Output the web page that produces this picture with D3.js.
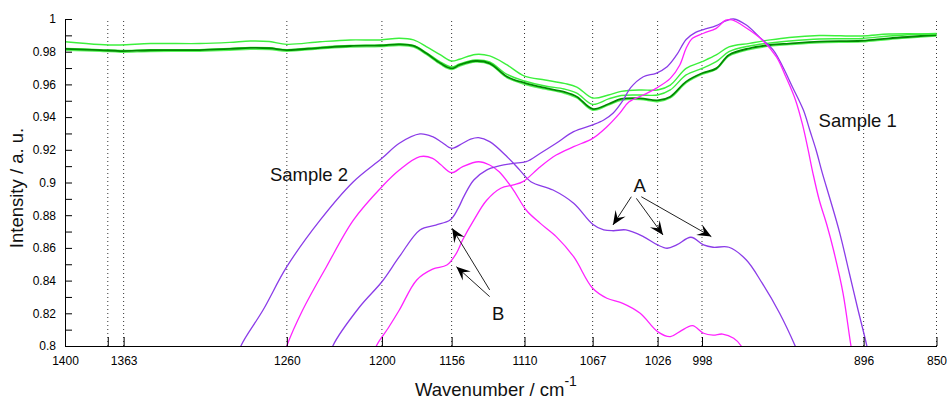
<!DOCTYPE html>
<meta charset="utf-8">
<head>
  <title>IR spectra, samples 1 and 2</title>
</head>

<style>
body { margin: 0; background: #fff; }
text {
  font-family: "Liberation Sans", Arial, Helvetica, sans-serif;
  fill: black;
}
.axis text { font-size: 12px; }
.axis path, .axis line { stroke: black; }
.guide { stroke: #333; stroke-dasharray: 1,3; }
.spec { fill: none; stroke-linejoin: round; }
.note { font-size: 18.5px; fill: #111; }
</style>

<body>
  <svg width="947" height="400">
    <g></g>
  </svg>

  <script src="https://cdnjs.cloudflare.com/ajax/libs/d3/7.8.5/d3.min.js"></script>
  <script>

// ticks
var xTicks = [1400, 1373, 1363, 1260, 1200, 1156, 1110, 1067, 1026, 998, 896, 850];
var xTickLabels = ["1400", "", "1363", "1260", "1200", "1156", "1110", "1067", "1026", "998", "896", "850"];
var yTicks = [0.8, 0.82, 0.84, 0.86, 0.88, 0.9, 0.92, 0.94, 0.96, 0.98, 1];
var yTickLabels = ["0.8", "0.82", "0.84", "0.86", "0.88", "0.9", "0.92", "0.94", "0.96", "0.98", "1"];

// green spectra share one wavenumber grid
var greenWn = [1400,1378,1365,1346,1315,1296,1283,1271,1260,1239,1220,1201,1189,1180,1172,1163,1156,1151,1141,1132,1121,1110,1097,1085,1077,1067,1057,1049,1037,1026,1018,1008,998,989,981,968,955,943,924,897,880,850];
var greenTop = [0.9861,0.9844,0.9841,0.9850,0.9850,0.9857,0.9865,0.9862,0.9845,0.9861,0.9872,0.9872,0.9882,0.9872,0.9831,0.9780,0.9743,0.9754,0.9783,0.9774,0.9719,0.9651,0.9627,0.9606,0.9584,0.9517,0.9535,0.9557,0.9566,0.9566,0.9596,0.9698,0.9739,0.9780,0.9829,0.9851,0.9872,0.9887,0.9899,0.9896,0.9908,0.9908];
var greenMid = [0.9820,0.9813,0.9807,0.9812,0.9813,0.9820,0.9826,0.9824,0.9813,0.9828,0.9838,0.9841,0.9848,0.9838,0.9795,0.9737,0.9706,0.9725,0.9749,0.9737,0.9661,0.9621,0.9590,0.9572,0.9547,0.9478,0.9511,0.9532,0.9535,0.9535,0.9566,0.9658,0.9698,0.9739,0.9800,0.9835,0.9853,0.9865,0.9878,0.9881,0.9896,0.9911];
var greenDark = [0.9817,0.9810,0.9804,0.9809,0.9810,0.9817,0.9823,0.9821,0.9810,0.9824,0.9835,0.9838,0.9845,0.9835,0.9790,0.9729,0.9698,0.9719,0.9743,0.9729,0.9647,0.9609,0.9578,0.9554,0.9525,0.9450,0.9480,0.9511,0.9515,0.9502,0.9525,0.9617,0.9668,0.9698,0.9780,0.9821,0.9841,0.9850,0.9862,0.9867,0.9882,0.9902];
var greenLow = [0.9809,0.9803,0.9797,0.9801,0.9803,0.9809,0.9815,0.9813,0.9803,0.9817,0.9828,0.9831,0.9838,0.9828,0.9783,0.9722,0.9691,0.9711,0.9736,0.9722,0.9640,0.9601,0.9571,0.9546,0.9517,0.9442,0.9473,0.9503,0.9508,0.9494,0.9517,0.9609,0.9661,0.9691,0.9772,0.9813,0.9834,0.9843,0.9855,0.9860,0.9875,0.9895];

// sample 2
var s2PurpleWn = [1292,1289,1275,1260,1239,1218,1200,1189,1176,1168,1162,1156,1149,1144,1139,1132,1121,1113,1106,1092,1079,1067,1060,1054,1046,1035,1026,1020,1014,1005,997,991,981,970,960,949,939,935];
var s2PurpleI = [0.79,0.800,0.822,0.8485,0.877,0.9005,0.9148,0.924,0.9297,0.928,0.9245,0.9209,0.924,0.9265,0.9274,0.925,0.9158,0.9076,0.9005,0.8954,0.8873,0.8745,0.871,0.8705,0.871,0.8669,0.8618,0.8598,0.8618,0.8665,0.8618,0.8604,0.8604,0.8526,0.8384,0.82,0.7996,0.79];
var s2MagentaWn = [1263,1260,1250,1235,1218,1200,1189,1176,1168,1163,1156,1149,1139,1132,1126,1117,1109,1100,1090,1079,1067,1058,1048,1037,1026,1018,1012,1004,997,991,985,978,973,970];
var s2MagentaI = [0.79,0.800,0.822,0.8485,0.877,0.8974,0.9076,0.9158,0.9148,0.911,0.906,0.9097,0.9127,0.9107,0.9066,0.8954,0.8832,0.875,0.8669,0.8546,0.8353,0.8292,0.8261,0.82,0.8088,0.8057,0.8088,0.8124,0.8078,0.8067,0.8073,0.8047,0.7996,0.79];

// sample 1
var s1PurpleWn = [1234,1231,1214,1200,1189,1176,1166,1157,1152,1148,1142,1134,1126,1117,1109,1100,1090,1079,1067,1060,1054,1048,1043,1035,1027,1020,1014,1008,1002,997,989,983,978,970,962,953,947,941,934,930,926,922,917,911,905,900,894,892];
var s1PurpleI = [0.79,0.800,0.824,0.8393,0.8546,0.871,0.874,0.877,0.884,0.892,0.9015,0.9076,0.9101,0.9117,0.9127,0.9179,0.924,0.9311,0.9352,0.9382,0.9425,0.950,0.958,0.9647,0.9668,0.9708,0.978,0.9875,0.9918,0.9935,0.996,0.9988,1.0,0.9963,0.9892,0.981,0.9708,0.9586,0.9443,0.9321,0.9199,0.9056,0.8893,0.8689,0.8445,0.824,0.8002,0.79];
var s1MagentaWn = [1206,1203.5,1196,1189,1178,1168,1159,1153,1149,1142,1134,1125,1117,1111,1100,1090,1079,1067,1058,1050,1044,1035,1027,1018,1012,1008,1004,997,989,983,979,970,960,951,945,939,934.5,931,928,924,919,915,909,904,902];
var s1MagentaI = [0.79,0.800,0.811,0.822,0.8404,0.847,0.8495,0.8567,0.865,0.877,0.889,0.8965,0.8985,0.9005,0.9097,0.9168,0.9219,0.927,0.9341,0.9423,0.9494,0.9535,0.9576,0.9637,0.9719,0.9821,0.9882,0.9913,0.9943,0.9993,0.9994,0.9945,0.9872,0.9768,0.9645,0.9505,0.9352,0.9199,0.9058,0.8893,0.8734,0.8587,0.8324,0.8002,0.79];

// text notes and arrows, in data units
var notes = [
  {text: "Sample 2", wn: 1270.7, y: 0.9009, anchor: "start"},
  {text: "Sample 1", wn: 924.4, y: 0.9341, anchor: "start"},
  {text: "A", wn: 1037.3, y: 0.8944, anchor: "middle"},
  {text: "B", wn: 1126.7, y: 0.8159, anchor: "middle"}
];
var arrows = [
  {wn0: 1042.6, y0: 0.8913, wn1: 1054.2, y1: 0.874},
  {wn0: 1039.4, y0: 0.8903, wn1: 1022.6, y1: 0.8679},
  {wn0: 1036.3, y0: 0.8913, wn1: 992.1, y1: 0.8669},
  {wn0: 1132, y0: 0.8343, wn1: 1155.7, y1: 0.872},
  {wn0: 1132, y0: 0.8302, wn1: 1153, y1: 0.8485}
];

var x = d3.scaleLinear().domain([1400, 850]).range([65, 936.5]);
var y = d3.scaleLinear().domain([0.8, 1]).range([346, 19]);

var svg = d3.select('svg g');

svg.append('clipPath').attr('id', 'plot')
  .append('rect')
  .attr('x', 65).attr('y', 16)
  .attr('width', 872).attr('height', 330);

// dotted guide lines
svg.selectAll('line.guide')
  .data(xTicks.slice(1))
  .enter()
  .append('line')
  .attr('class', 'guide')
  .attr('x1', function(d) { return x(d); })
  .attr('x2', function(d) { return x(d); })
  .attr('y1', 21)
  .attr('y2', 346);

function pairs(wn, vals) {
  return wn.map(function(w, i) { return [w, vals[i]]; });
}

var line = d3.line()
  .x(function(d) { return x(d[0]); })
  .y(function(d) { return y(d[1]); })
  .curve(d3.curveCatmullRom.alpha(0.5));

var series = [
  {data: pairs(greenWn, greenLow), color: '#5cf55c', width: 1.4},
  {data: pairs(greenWn, greenMid), color: '#3cf03c', width: 1.4},
  {data: pairs(greenWn, greenDark), color: '#008a00', width: 1.8},
  {data: pairs(greenWn, greenTop), color: '#3cf03c', width: 1.4},
  {data: pairs(s2PurpleWn, s2PurpleI), color: '#8b3ce8', width: 1.3},
  {data: pairs(s2MagentaWn, s2MagentaI), color: '#ff22ff', width: 1.3},
  {data: pairs(s1PurpleWn, s1PurpleI), color: '#8b3ce8', width: 1.3},
  {data: pairs(s1MagentaWn, s1MagentaI), color: '#ff22ff', width: 1.3}
];

svg.append('g')
  .attr('clip-path', 'url(#plot)')
  .selectAll('path')
  .data(series)
  .enter()
  .append('path')
  .attr('class', 'spec')
  .attr('stroke', function(d) { return d.color; })
  .attr('stroke-width', function(d) { return d.width; })
  .attr('d', function(d) { return line(d.data); });

// axes, ticks pointing inwards
svg.append('g')
  .attr('class', 'axis')
  .attr('transform', 'translate(0,346)')
  .call(d3.axisBottom(x)
    .tickValues(xTicks)
    .tickFormat(function(d, i) { return xTickLabels[i]; })
    .tickSizeInner(-9)
    .tickSizeOuter(0)
    .tickPadding(10));

svg.append('g')
  .attr('class', 'axis')
  .attr('transform', 'translate(65,0)')
  .call(d3.axisLeft(y)
    .tickValues(y.ticks(20))
    .tickFormat(function(d) {
      var i = yTicks.findIndex(function(t) { return Math.abs(t - d) < 1e-6; });
      return i < 0 ? '' : yTickLabels[i];
    })
    .tickSizeInner(-7)
    .tickSizeOuter(0)
    .tickPadding(9));

// axis titles
svg.append('text')
  .attr('class', 'note')
  .attr('transform', 'translate(23,188) rotate(-90)')
  .attr('text-anchor', 'middle')
  .text('Intensity / a. u.');

var xt = svg.append('text')
  .attr('class', 'note')
  .attr('x', 415)
  .attr('y', 396);
xt.append('tspan').text('Wavenumber / cm');
xt.append('tspan').attr('dy', -10).style('font-size', '14px').text('-1');

// labels and arrows
svg.selectAll('text.lab')
  .data(notes)
  .enter()
  .append('text')
  .attr('class', 'note lab')
  .attr('x', function(d) { return x(d.wn); })
  .attr('y', function(d) { return y(d.y); })
  .attr('text-anchor', function(d) { return d.anchor; })
  .text(function(d) { return d.text; });

var ag = svg.selectAll('g.arrow')
  .data(arrows)
  .enter()
  .append('g')
  .attr('class', 'arrow');

ag.append('line')
  .attr('x1', function(d) { return x(d.wn0); })
  .attr('y1', function(d) { return y(d.y0); })
  .attr('x2', function(d) { return x(d.wn1); })
  .attr('y2', function(d) { return y(d.y1); })
  .attr('stroke', '#222')
  .attr('stroke-width', 1);

ag.append('path')
  .attr('fill', 'black')
  .attr('d', function(d) {
    var x0 = x(d.wn0), y0 = y(d.y0), x1 = x(d.wn1), y1 = y(d.y1);
    var len = Math.hypot(x1 - x0, y1 - y0);
    var ux = (x1 - x0) / len, uy = (y1 - y0) / len;
    var nx = -uy, ny = ux;
    var L = 14, W = 6;
    return 'M' + [x1, y1] +
      'L' + [x1 - L * ux + W * nx, y1 - L * uy + W * ny] +
      'L' + [x1 - 0.6 * L * ux, y1 - 0.6 * L * uy] +
      'L' + [x1 - L * ux - W * nx, y1 - L * uy - W * ny] + 'Z';
  });

  </script>
</body>
</html>
